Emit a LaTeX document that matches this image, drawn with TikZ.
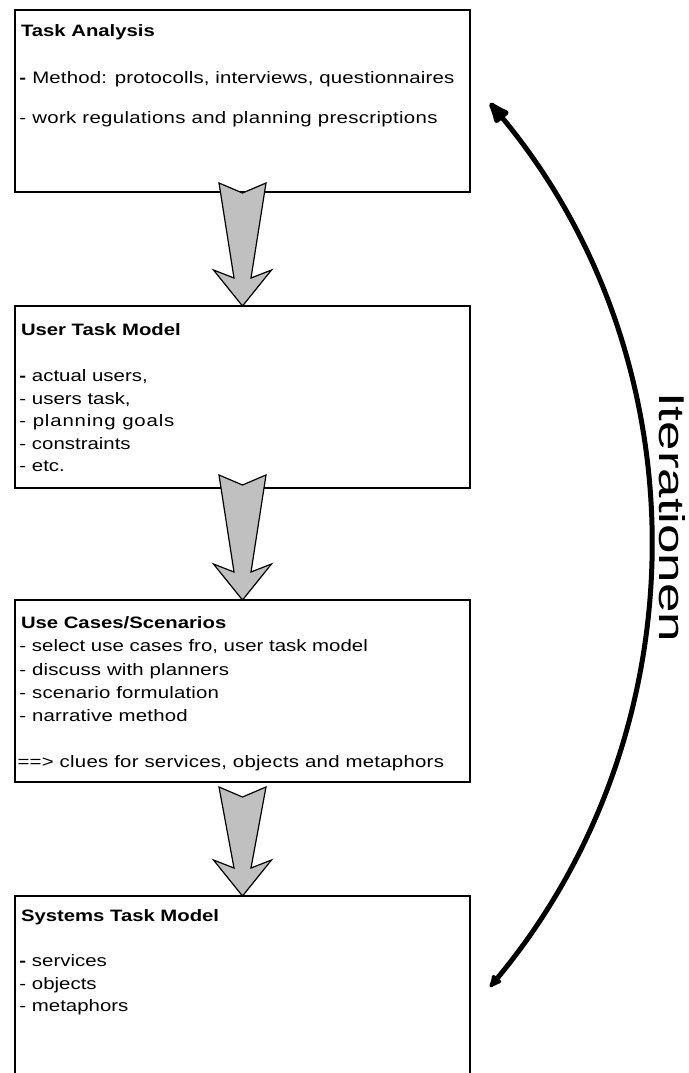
\documentclass[tikz,border=0pt]{standalone}
\usepackage{fontspec}
\setmainfont{Liberation Sans}[FakeStretch=1.23]
\usetikzlibrary{arrows.meta,calc}
\definecolor{arrowgray}{RGB}{192,192,192}
\tikzset{
  stagebox/.style={draw=black, line width=1.8pt, minimum width=455pt,
    inner sep=0pt, outer sep=0pt},
  txtline/.style={anchor=base west, inner sep=0pt, outer sep=0pt,
    font=\fontsize{16.6}{20}\selectfont},
  heading/.style={txtline, font=\fontsize{16.5}{20}\selectfont\bfseries},
  fatarrow/.style={draw=black, line width=1.2pt, fill=arrowgray, line join=miter},
  iterloop/.style={line width=5pt, line cap=round,
    {Latex[length=16pt,width=14pt,round]}-{Latex[length=28pt,width=21pt,round]}}
}
% block arrow from the bottom of #1 to the top of #2; #3 shifts the tail up
\newcommand\blockarrow[3]{%
  \filldraw[fatarrow] let \p1=(#1.south), \p2=(#2.north) in
    ({\x2-23.5pt},{\y1+(#3pt)}) -- ({\x2},{\y1+(#3pt)-10pt}) --
    ({\x2+23.5pt},{\y1+(#3pt)}) -- ({\x2+8.5pt},{\y2+28pt}) --
    ({\x2+29pt},{\y2+36pt}) -- (\x2,\y2) -- ({\x2-29pt},{\y2+36pt}) --
    ({\x2-8.5pt},{\y2+28pt}) -- cycle;}
\begin{document}
\begin{tikzpicture}[x=1pt,y=-1pt]
\useasboundingbox (0,0) rectangle (688,1073);
\clip (0,0) rectangle (688,1073);
\fill[white] (0,0) rectangle (688,1073);

% stage frames
\node[stagebox, minimum height=182pt] (ta)  at (242.5,101) {};
\node[stagebox, minimum height=182pt] (utm) at (242.5,397) {};
\node[stagebox, minimum height=182pt] (ucs) at (242.5,691) {};
\node[stagebox, minimum height=200pt] (stm) at (242.5,996) {};

% Task Analysis
\node[heading] (ta0) at (21,37) {Task Analysis};
\node[txtline] (ta1) at (19.5,83) {\addfontfeature{LetterSpace=1}\textbf{-} Method: protocolls, interviews, questionnaires};
\node[txtline] (ta2) at (19.5,123) {\addfontfeature{LetterSpace=2}- work regulations and planning prescriptions};

% User Task Model
\node[heading] (utm0) at (21,335) {User Task Model};
\node[txtline] (utm1) at (19.5,381.7) {\textbf{-} actual users,};
\node[txtline] (utm2) at (19.5,404.2) {- users task,};
\node[txtline] (utm3) at (19.5,426.7) {\addfontfeature{LetterSpace=5}- planning goals};
\node[txtline] (utm4) at (19.5,449.2) {- constraints};
\node[txtline] (utm5) at (19.5,471.7) {- etc.};

% Use Cases/Scenarios
\node[heading] (ucs0) at (21,628.3) {Use Cases/Scenarios};
\node[txtline] (ucs1) at (19.5,651.7) {- select use cases fro, user task model};
\node[txtline] (ucs2) at (19.5,675) {\addfontfeature{LetterSpace=1}- discuss with planners};
\node[txtline] (ucs3) at (19.5,698.3) {\addfontfeature{LetterSpace=1}- scenario formulation};
\node[txtline] (ucs4) at (19.5,721) {\addfontfeature{LetterSpace=1}- narrative method};
\node[txtline] (ucs5) at (17.5,767) {\addfontfeature{LetterSpace=1.5}==> clues for services, objects and metaphors};

% Systems Task Model
\node[heading] (stm0) at (21,921.7) {Systems Task Model};
\node[txtline] (stm1) at (19.5,966.7) {\textbf{-} services};
\node[txtline] (stm2) at (19.5,989) {- objects};
\node[txtline] (stm3) at (19.5,1011.7) {- metaphors};

% block arrows between the stages
\blockarrow{ta}{utm}{9}
\blockarrow{utm}{ucs}{13}
\blockarrow{ucs}{stm}{-5}

% iteration loop
\coordinate (itTop) at (490,103);
\coordinate (itBot) at (490,987);
\draw[iterloop] (itBot) arc[start angle=-39.8, end angle=39.8, radius=690.5pt];
\node[rotate=-90, anchor=base west, inner sep=0pt] (iter) at (659,392)
  {\resizebox{250pt}{26pt}{Iterationen}};
\end{tikzpicture}
\end{document}
